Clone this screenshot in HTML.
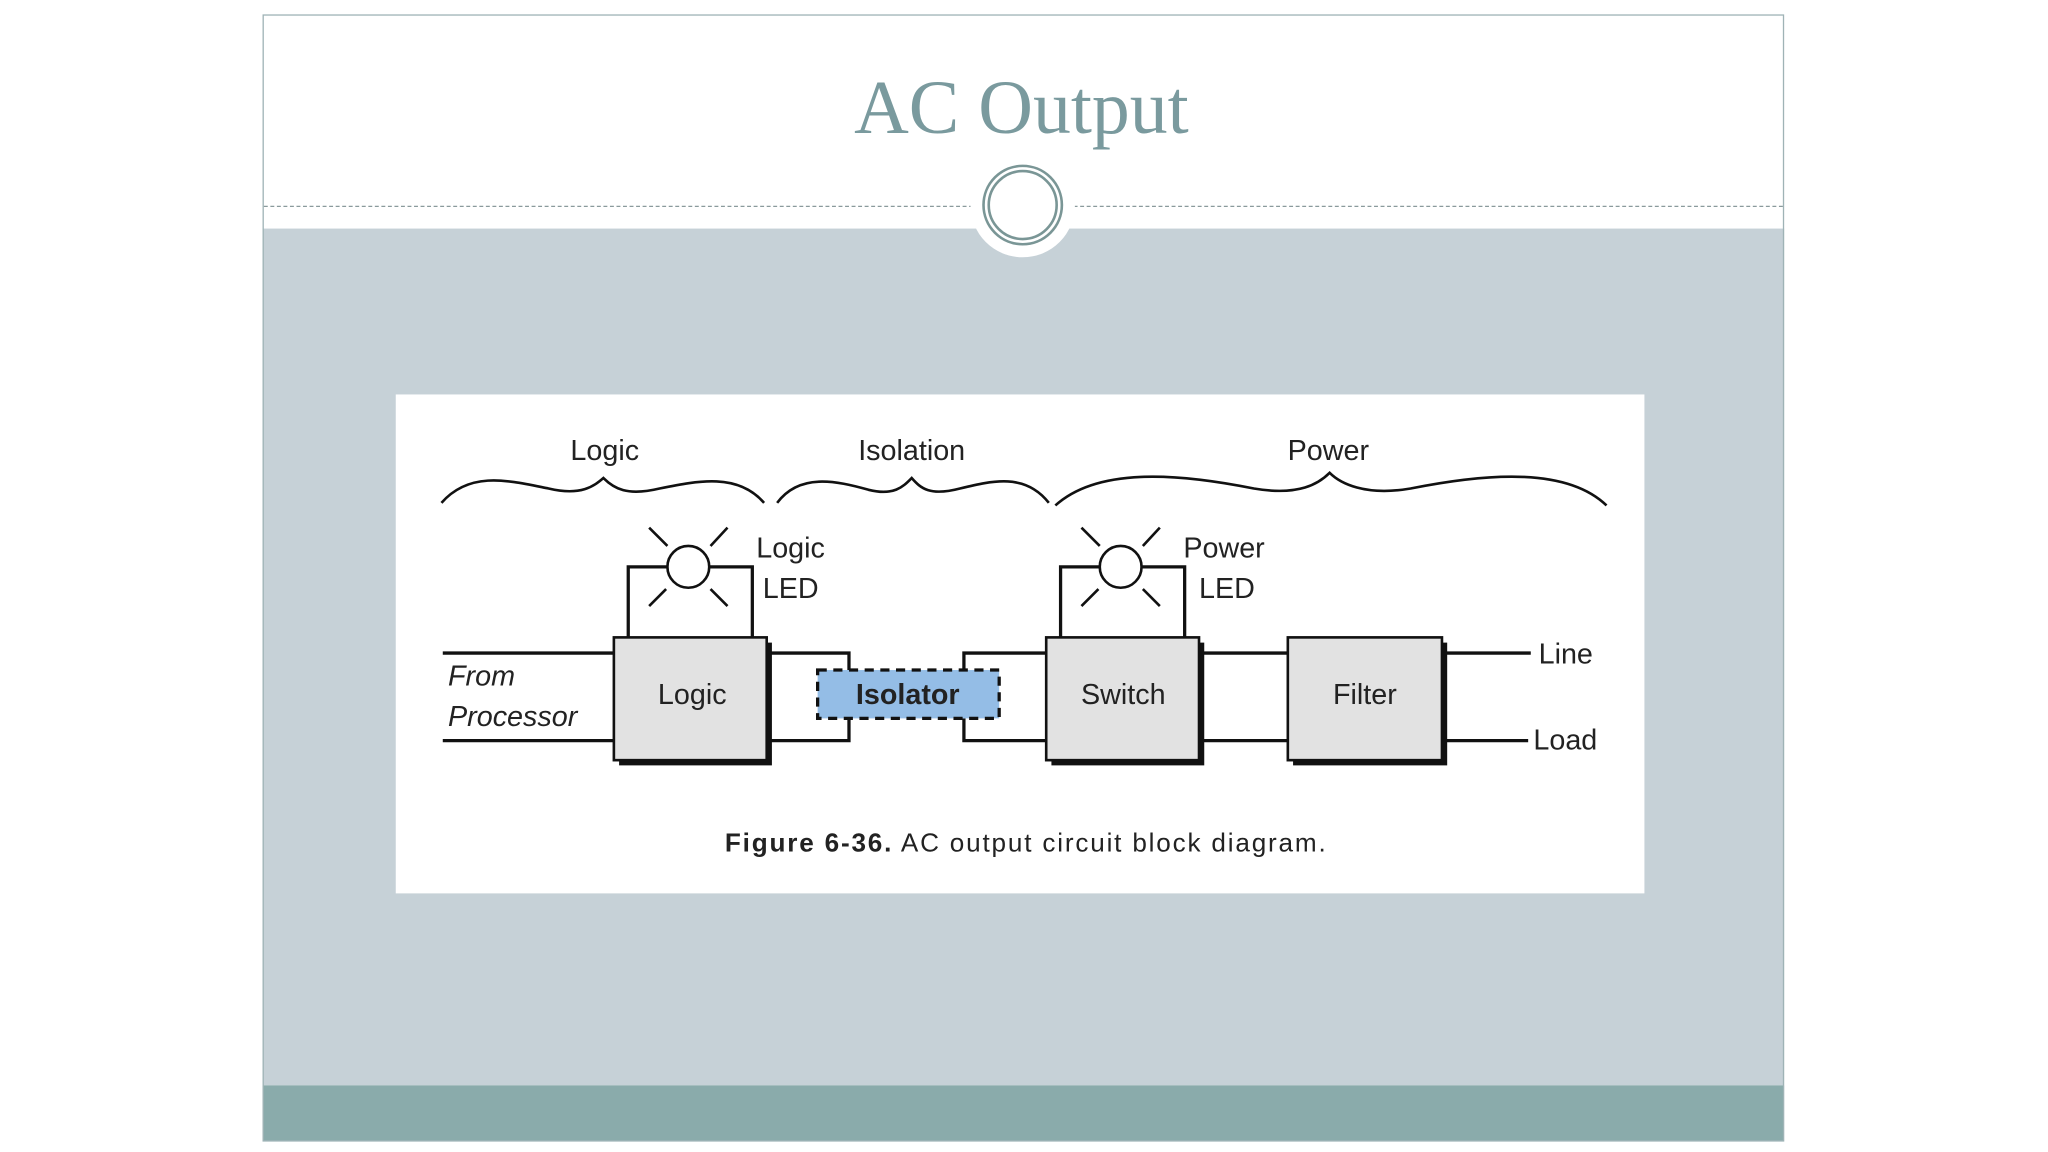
<!DOCTYPE html>
<html><head><meta charset="utf-8"><style>
html,body{margin:0;padding:0;background:#fff;}
svg{display:block;}
text{font-family:"Liberation Sans",sans-serif;fill:#222;}
</style></head><body>
<svg width="2048" height="1152" viewBox="0 0 1568 882" preserveAspectRatio="none" xmlns="http://www.w3.org/2000/svg">
<rect x="0" y="0" width="1568" height="882" fill="#fff"/>
<rect x="201" y="175" width="1165" height="656" fill="#c6d1d7"/>
<rect x="201" y="831" width="1165" height="43" fill="#8aabab"/>
<rect x="201.5" y="11.5" width="1164" height="862" fill="none" stroke="#9fb3b6" stroke-width="1"/>
<line x1="202" y1="158" x2="1365" y2="158" stroke="#8a9a9c" stroke-width="1" stroke-dasharray="3,2"/>
<circle cx="783" cy="157" r="40" fill="#fff"/>
<circle cx="783" cy="157" r="30" fill="none" stroke="#7a9696" stroke-width="2"/>
<circle cx="783" cy="157" r="26" fill="none" stroke="#7a9696" stroke-width="2"/>
<text x="782" y="102" text-anchor="middle" style="font-family:'Liberation Serif',serif;font-size:58px;fill:#7a9a9e">AC Output</text>
<rect x="303" y="302" width="956" height="382" fill="#fff"/>
<g fill="none" stroke="#111" stroke-width="2">
<path d="M338,385 C360,360 390,368 420,374 C445,380 455,372 462,366 C470,374 480,380 505,374 C535,368 565,362 585,385"/>
<path d="M595,385 C612,362 640,368 665,375 C685,380 692,372 698,366 C705,374 712,380 735,374 C760,368 785,362 803,385"/>
<path d="M808,387 C840,358 900,362 960,374 C995,380 1010,370 1018,362 C1026,370 1045,380 1080,374 C1140,362 1200,358 1230,387"/>
</g>
<text x="463" y="352" text-anchor="middle" font-size="22">Logic</text>
<text x="698" y="352" text-anchor="middle" font-size="22">Isolation</text>
<text x="1017" y="352" text-anchor="middle" font-size="22">Power</text>
<g fill="none" stroke="#111" stroke-width="2.5">
<line x1="339" y1="500" x2="470" y2="500"/>
<line x1="339" y1="567" x2="470" y2="567"/>
<polyline points="590,500 650,500 650,513"/>
<polyline points="590,567 650,567 650,550"/>
<polyline points="801,500 738,500 738,513"/>
<polyline points="801,567 738,567 738,550"/>
<line x1="918" y1="500" x2="986" y2="500"/>
<line x1="918" y1="567" x2="986" y2="567"/>
<line x1="1104" y1="500" x2="1172" y2="500"/>
<line x1="1104" y1="567" x2="1170" y2="567"/>
<polyline points="481,488 481,434 576,434 576,488"/>
<polyline points="812,488 812,434 907,434 907,488"/>
</g>
<g stroke="#111" stroke-width="2">
<circle cx="527" cy="434" r="16" fill="#fff"/>
<line x1="497" y1="404" x2="511" y2="418"/><line x1="557" y1="404" x2="544" y2="418"/>
<line x1="497" y1="464" x2="510" y2="451"/><line x1="557" y1="464" x2="544" y2="451"/>
<circle cx="858" cy="434" r="16" fill="#fff"/>
<line x1="828" y1="404" x2="842" y2="418"/><line x1="888" y1="404" x2="875" y2="418"/>
<line x1="828" y1="464" x2="841" y2="451"/><line x1="888" y1="464" x2="875" y2="451"/>
</g>
<g>
<rect x="474" y="492" width="117" height="94" fill="#111"/>
<rect x="470" y="488" width="117" height="94" fill="#e2e2e2" stroke="#111" stroke-width="2"/>
<rect x="805" y="492" width="117" height="94" fill="#111"/>
<rect x="801" y="488" width="117" height="94" fill="#e2e2e2" stroke="#111" stroke-width="2"/>
<rect x="990" y="492" width="118" height="94" fill="#111"/>
<rect x="986" y="488" width="118" height="94" fill="#e2e2e2" stroke="#111" stroke-width="2"/>
<rect x="626" y="513" width="139" height="37" fill="#94bde6" stroke="#111" stroke-width="2.5" stroke-dasharray="7,5"/>
</g>
<text x="579" y="427" font-size="22">Logic</text>
<text x="584" y="458" font-size="22">LED</text>
<text x="906" y="427" font-size="22">Power</text>
<text x="918" y="458" font-size="22">LED</text>
<text x="343" y="525" font-size="22" font-style="italic">From</text>
<text x="343" y="556" font-size="22" font-style="italic">Processor</text>
<text x="530" y="539" text-anchor="middle" font-size="22">Logic</text>
<text x="695" y="539" text-anchor="middle" font-size="22" font-weight="bold">Isolator</text>
<text x="860" y="539" text-anchor="middle" font-size="22">Switch</text>
<text x="1045" y="539" text-anchor="middle" font-size="22">Filter</text>
<text x="1178" y="508" font-size="22">Line</text>
<text x="1174" y="574" font-size="22">Load</text>
<text x="555" y="652" font-size="20" textLength="460"><tspan font-weight="bold">Figure 6-36.</tspan> AC output circuit block diagram.</text>
</svg>
</body></html>
